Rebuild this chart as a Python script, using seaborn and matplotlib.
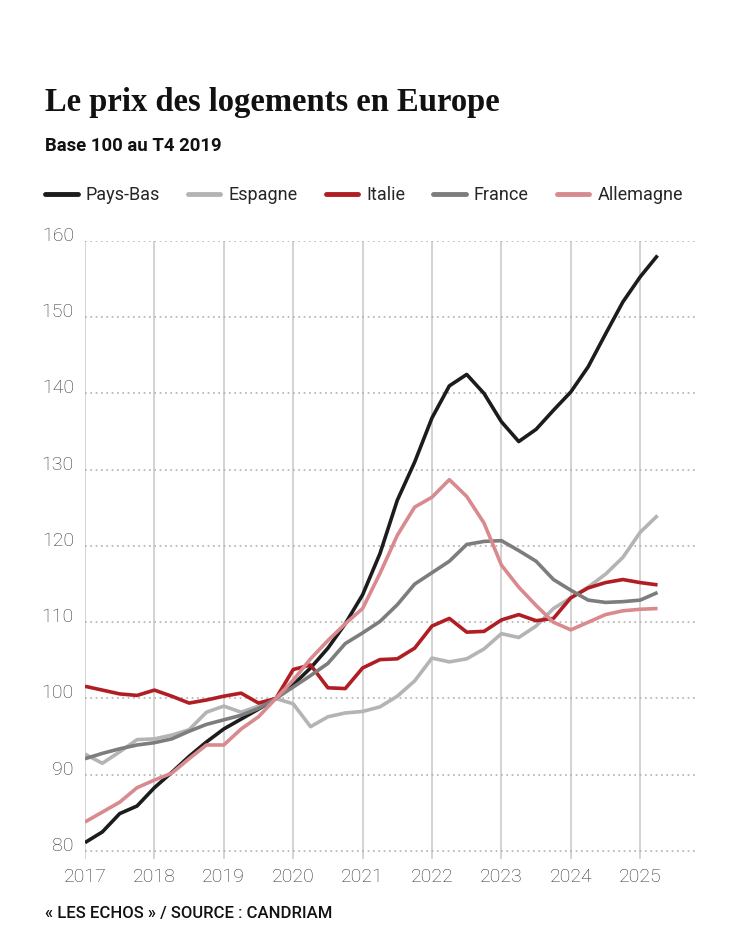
import pandas as pd
import seaborn as sns
import matplotlib.pyplot as plt
from matplotlib.lines import Line2D

# Données : indice des prix des logements, base 100 au T4 2019 (lecture du graphique)
trimestres = pd.period_range('2017Q1', '2025Q2', freq='Q')

pays_bas = [81.1, 82.5, 84.9, 85.9, 88.3, 90.3, 92.4, 94.3, 96.0, 97.3, 98.6, 100.0,
            101.8, 104.0, 106.6, 109.8, 113.6, 119.0, 126.0, 131.0, 136.8, 141.0,
            142.5, 140.0, 136.3, 133.7, 135.3, 137.8, 140.2, 143.5, 147.8, 152.0,
            155.3, 158.1]
espagne = [92.7, 91.5, 93.0, 94.6, 94.7, 95.2, 95.9, 98.2, 99.0, 98.2, 99.0, 100.0,
           99.3, 96.3, 97.6, 98.1, 98.3, 98.9, 100.3, 102.3, 105.3, 104.8, 105.2,
           106.5, 108.5, 108.0, 109.5, 111.8, 113.2, 114.6, 116.3, 118.5, 121.8, 124.0]
italie = [101.6, 101.1, 100.6, 100.4, 101.1, 100.3, 99.4, 99.8, 100.3, 100.7, 99.4, 100.0,
          103.8, 104.4, 101.4, 101.3, 104.0, 105.1, 105.2, 106.6, 109.5, 110.5, 108.7,
          108.8, 110.3, 111.0, 110.2, 110.5, 113.2, 114.5, 115.2, 115.6, 115.2, 114.9]
france = [92.1, 92.8, 93.4, 93.9, 94.2, 94.7, 95.7, 96.6, 97.2, 97.8, 98.7, 100.0,
          101.5, 103.0, 104.6, 107.2, 108.6, 110.1, 112.3, 115.0, 116.5, 118.0, 120.2,
          120.6, 120.7, 119.4, 118.0, 115.6, 114.2, 112.9, 112.6, 112.7, 112.9, 113.9]
allemagne = [83.8, 85.1, 86.4, 88.3, 89.3, 90.2, 92.1, 93.9, 93.9, 96.0, 97.6, 100.0,
             102.4, 105.2, 107.6, 109.8, 111.8, 116.4, 121.4, 125.1, 126.4, 128.7,
             126.5, 123.0, 117.5, 114.6, 112.2, 110.0, 109.0, 110.0, 111.0, 111.5,
             111.7, 111.8]

pays = ['Pays-Bas', 'Espagne', 'Italie', 'France', 'Allemagne']
couleurs = ['#1c1c1c', '#b4b4b4', '#b01e24', '#7d7d7d', '#d98a8f']
annees = list(range(2017, 2026))
graduations_y = list(range(80, 161, 10))

# tableau long pour seaborn
x = [t.year + (t.quarter - 1) / 4 for t in trimestres]
df = pd.DataFrame({'Pays-Bas': pays_bas, 'Espagne': espagne, 'Italie': italie,
                   'France': france, 'Allemagne': allemagne})
df['date'] = x
df = df.melt(id_vars='date', var_name='pays', value_name='indice')

sns.set_style('white')
plt.rcParams['font.family'] = ['Roboto', 'DejaVu Sans']

W, H = 750, 938
fig = plt.figure(figsize=(W / 100, H / 100), dpi=100)
ax = fig.add_axes([85 / W, 1 - 858.6 / H, 610 / W, 617.6 / H])

sns.lineplot(data=df, x='date', y='indice', hue='pays', hue_order=pays,
             palette=dict(zip(pays, couleurs)), linewidth=2.6, ax=ax,
             legend=False, solid_capstyle='butt')

ax.set_xlim(2017, 2017 + 610 / 69.4)
ax.set_ylim(79, 160)
for s in ax.spines.values():
    s.set_visible(False)

# grille
for a in annees:
    ax.axvline(a, color='#cccccc', lw=1.2, zorder=0)
for v in graduations_y:
    ax.axhline(v, color='#b0b0b0', lw=1.2, ls=(0, (1, 2.2)), zorder=0)

ax.set_xticks(annees)
ax.set_xticklabels([str(a) for a in annees], fontsize=14, color='#333333',
                   fontweight='light')
ax.set_yticks(graduations_y)
ax.set_yticklabels([str(v) for v in graduations_y], fontsize=14, color='#333333',
                   fontweight='light')
for t in ax.get_yticklabels():
    t.set_va('baseline')
ax.tick_params(axis='both', length=0)
ax.tick_params(axis='y', pad=8)
ax.tick_params(axis='x', pad=7)
ax.set_xlabel('')
ax.set_ylabel('')

# titres
fig.text(45 / W, 1 - 111 / H, 'Le prix des logements en Europe',
         fontsize=23.5, fontweight='bold', family='Liberation Serif', color='#111111')
fig.text(45 / W, 1 - 151 / H, 'Base 100 au T4 2019', fontsize=13.3,
         fontweight='bold', color='#111111')

# légende
poignees = [Line2D([], [], color=c, lw=3.5) for c in couleurs]
fig.legend(poignees, pays, loc='center left', bbox_to_anchor=(45 / W, 1 - 195 / H),
           ncol=5, frameon=False, fontsize=13, handlelength=1.8, handletextpad=0.45,
           columnspacing=1.55, borderpad=0, borderaxespad=0)

fig.text(45 / W, 1 - 918 / H, '« LES ECHOS » / SOURCE : CANDRIAM', fontsize=12,
         fontweight='medium', color='#111111')

fig.savefig('out.png', dpi=100)
